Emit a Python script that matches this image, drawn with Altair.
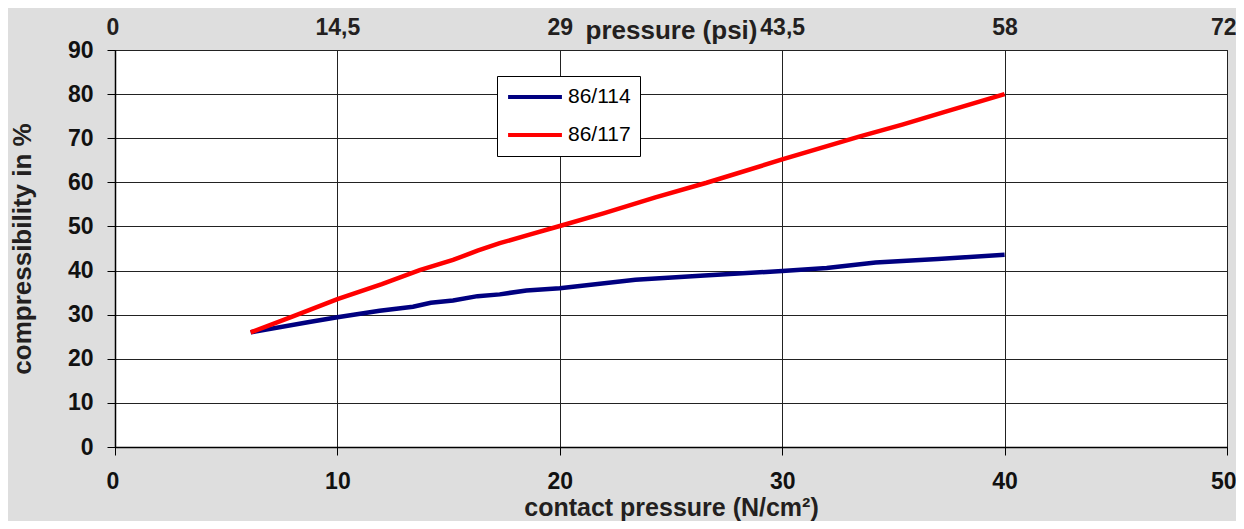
import altair as alt
import pandas as pd

# contact pressure (N/cm²) and compressibility (%)
x_114 = [6.1, 8.8, 10.0, 11.9, 13.4, 14.2, 15.2, 16.3, 17.3, 18.5, 20.0, 20.9, 23.4, 26.5, 30.0, 32.0, 34.2, 37.0, 40.0]
y_114 = [26.0, 28.4, 29.4, 30.9, 31.8, 32.7, 33.2, 34.2, 34.6, 35.5, 36.0, 36.5, 37.9, 38.9, 39.9, 40.6, 41.8, 42.6, 43.6]
x_117 = [6.1, 8.0, 10.0, 12.0, 13.7, 15.2, 16.3, 17.3, 18.6, 20.0, 22.0, 24.3, 26.6, 30.0, 33.5, 35.4, 37.2, 40.0]
y_117 = [26.0, 29.6, 33.5, 36.9, 40.1, 42.4, 44.5, 46.2, 48.1, 50.1, 53.0, 56.6, 59.9, 65.2, 70.4, 73.1, 75.8, 80.0]

series_names = ["86/114", "86/117"]
series_colors = ["#000080", "#ff0000"]

x_ticks = [0, 10, 20, 30, 40, 50]
psi_labels = ["0", "14,5", "29", "43,5", "58", "72"]
y_ticks = [0, 10, 20, 30, 40, 50, 60, 70, 80, 90]

df = pd.DataFrame({
    "x": x_114 + x_117,
    "y": y_114 + y_117,
    "series": [series_names[0]] * len(x_114) + [series_names[1]] * len(x_117),
    "order": list(range(len(x_114))) + list(range(len(x_117))),
})
ticks_df = pd.DataFrame({"x": x_ticks})

FONT = "Liberation Sans"
W, H = 1112, 397

x_scale = alt.Scale(domain=[0, 50], nice=False, zero=True)
y_scale = alt.Scale(domain=[0, 90], nice=False)

lines = alt.Chart(df).mark_line(strokeWidth=4.5).encode(
    x=alt.X("x:Q", scale=x_scale,
            axis=alt.Axis(orient="bottom", values=x_ticks, title="contact pressure (N/cm²)",
                          grid=True, gridColor="#222222", gridWidth=1, gridOpacity=1,
                          domainColor="#000000", domainWidth=1.5,
                          tickColor="#000000", tickSize=8, tickWidth=1,
                          labelFont=FONT, labelFontSize=23, labelFontWeight="bold", labelColor="#111111",
                          labelPadding=15, labelFlush=True, labelFlushOffset=9,
                          titleFont=FONT, titleFontSize=25, titleFontWeight="bold", titleColor="#231f20",
                          titleX=W / 2, titleY=68, titleBaseline="alphabetic", titleAnchor="middle")),
    y=alt.Y("y:Q", scale=y_scale,
            axis=alt.Axis(values=y_ticks, title="compressibility in %",
                          grid=True, gridColor="#222222", gridWidth=1, gridOpacity=1,
                          domainColor="#000000", domainWidth=1.5,
                          tickColor="#000000", tickSize=8, tickWidth=1,
                          labelFont=FONT, labelFontSize=23, labelFontWeight="bold", labelColor="#111111",
                          labelPadding=14, labelFlush=False,
                          titleFont=FONT, titleFontSize=26, titleFontWeight="bold", titleColor="#231f20",
                          titlePadding=32)),
    color=alt.Color("series:N", scale=alt.Scale(domain=series_names, range=series_colors),
                    legend=alt.Legend(title=None, orient="none", legendX=382, legendY=26,
                                      fillColor="#ffffff", strokeColor="#000000", padding=9,
                                      labelFont=FONT, labelFontSize=21, labelColor="#000000",
                                      labelFontWeight="normal", labelOffset=4,
                                      symbolType="stroke", symbolStrokeWidth=4, symbolSize=2900,
                                      clipHeight=24, rowPadding=14)),
    order="order:Q",
)

label_expr = "[" + ",".join("'" + s + "'" for s in psi_labels) + "][round(datum.value/10)]"

top_axis = alt.Chart(ticks_df).mark_point(opacity=0).encode(
    x=alt.X("x:Q", scale=x_scale,
            axis=alt.Axis(orient="top", values=x_ticks, labelExpr=label_expr, title="pressure (psi)",
                          grid=False, domain=False, ticks=False,
                          labelFont=FONT, labelFontSize=23, labelFontWeight="bold", labelColor="#231f20",
                          labelPadding=11, labelFlush=True, labelFlushOffset=9,
                          titleFont=FONT, titleFontSize=26, titleFontWeight="bold", titleColor="#231f20",
                          titleX=W / 2, titleY=-12, titleBaseline="alphabetic", titleAnchor="middle")),
)

chart = alt.layer(lines, top_axis).resolve_axis(x="independent").properties(
    width=W, height=H,
    autosize=alt.AutoSizeParams(type="none"),
    padding={"left": 107, "top": 42, "right": 9, "bottom": 74},
    background="#dedede",
).configure_view(fill="#ffffff", stroke="#000000", strokeWidth=1)

chart.save("out.html", embed_options={"renderer": "svg", "actions": False})
